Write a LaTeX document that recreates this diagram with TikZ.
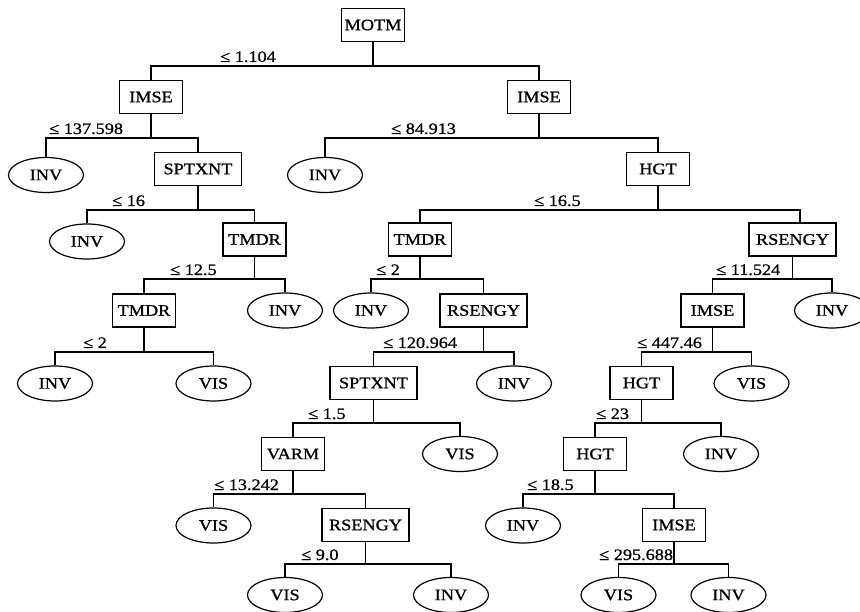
\documentclass[tikz,border=0pt]{standalone}
\usepackage{fontspec}
\setmainfont{Liberation Serif}[FakeStretch=1.14,FakeBold=0.9]
\usetikzlibrary{shapes.geometric}
\newcommand\treesplit[4]{%
  \coordinate (b#1) at (#1.south |- 0,#2);
  \draw[conn] (#1.south) -- (b#1);
  \draw[conn] (#3.north) |- (b#1) -| (#4.north);}
\begin{document}
\begin{tikzpicture}[x=1pt,y=-1pt,
  every node/.style={font=\fontsize{16}{18}\selectfont},
  tbox/.style={draw, line width=1.5pt, minimum width=63, minimum height=33, inner sep=0},
  wbox/.style={tbox, minimum width=87},
  leaf/.style={draw, ellipse, line width=1.2pt, minimum width=75, minimum height=35, inner sep=0},
  conn/.style={line width=1.7pt},
  lbl/.style={anchor=base west, inner sep=0}]
\useasboundingbox (0,0) rectangle (860,612);
\fill[white] (0,0) rectangle (860,612);
\clip (0,0) rectangle (860,612);
% nodes
\node[tbox] (motm) at (373,25) {MOTM};
\node[tbox] (imseL) at (151,97) {IMSE};
\node[tbox] (imseR) at (539,97) {IMSE};
\node[leaf] (inv1) at (46,175) {INV};
\node[wbox] (spt1) at (198,169) {SPTXNT};
\node[leaf] (inv2) at (325,175) {INV};
\node[tbox] (hgt1) at (658,169) {HGT};
\node[leaf] (inv3) at (87,241.5) {INV};
\node[tbox] (tmdr1) at (254.5,239.5) {TMDR};
\node[tbox] (tmdr3) at (420,239.5) {TMDR};
\node[wbox] (rs1) at (792.5,239.5) {RSENGY};
\node[tbox] (tmdr2) at (144,310.5) {TMDR};
\node[leaf] (inv4) at (285,310.5) {INV};
\node[leaf] (inv5) at (371,310.5) {INV};
\node[wbox] (rs2) at (483.5,310.5) {RSENGY};
\node[tbox] (imse3) at (712.5,310.5) {IMSE};
\node[leaf] (inv6) at (832,310.5) {INV};
\node[leaf] (inv7) at (55,383.5) {INV};
\node[leaf] (vis1) at (213.5,383.5) {VIS};
\node[wbox] (spt2) at (373.5,383) {SPTXNT};
\node[leaf] (inv8) at (514,383.5) {INV};
\node[tbox] (hgt2) at (641.5,383) {HGT};
\node[leaf] (vis2) at (751.5,383.5) {VIS};
\node[tbox] (varm) at (293,454) {VARM};
\node[leaf] (vis3) at (460,454) {VIS};
\node[tbox] (hgt3) at (595,454) {HGT};
\node[leaf] (inv9) at (721,454) {INV};
\node[leaf] (vis4) at (213.5,525.5) {VIS};
\node[wbox] (rs3) at (365.5,525) {RSENGY};
\node[leaf] (inv10) at (523,525.5) {INV};
\node[tbox] (imse4) at (674,525) {IMSE};
\node[leaf] (vis5) at (285,595) {VIS};
\node[leaf] (inv11) at (451,595) {INV};
\node[leaf] (vis6) at (618.5,595) {VIS};
\node[leaf] (inv12) at (728.5,595) {INV};
% connectors
\treesplit{motm}{66}{imseL}{imseR}
\treesplit{imseL}{138}{inv1}{spt1}
\treesplit{imseR}{138}{inv2}{hgt1}
\treesplit{spt1}{210}{inv3}{tmdr1}
\coordinate (bhgt1) at (hgt1.south |- 0,210);
\draw[conn] (hgt1.south) -- (bhgt1);
\draw[conn] (tmdr3.north) |- (bhgt1) -| ([xshift=7.5pt]rs1.north);
\treesplit{tmdr1}{279}{tmdr2}{inv4}
\treesplit{tmdr3}{279}{inv5}{rs2}
\treesplit{rs1}{279}{imse3}{inv6}
\treesplit{tmdr2}{352}{inv7}{vis1}
\treesplit{rs2}{352}{spt2}{inv8}
\treesplit{imse3}{352}{hgt2}{vis2}
\treesplit{spt2}{423}{varm}{vis3}
\treesplit{hgt2}{423}{hgt3}{inv9}
\treesplit{varm}{494}{vis4}{rs3}
\treesplit{hgt3}{494}{inv10}{imse4}
\treesplit{rs3}{564}{vis5}{inv11}
\treesplit{imse4}{564}{vis6}{inv12}
% labels
\node[lbl] (t1) at (220,62) {≤ 1.104};
\node[lbl] (t2) at (49,134) {≤ 137.598};
\node[lbl] (t3) at (391,134) {≤ 84.913};
\node[lbl] (t4) at (112,206) {≤ 16};
\node[lbl] (t5) at (534,206) {≤ 16.5};
\node[lbl] (t6) at (170,275) {≤ 12.5};
\node[lbl] (t7) at (376,275) {≤ 2};
\node[lbl] (t8) at (716,275) {≤ 11.524};
\node[lbl] (t9) at (83,348) {≤ 2};
\node[lbl] (t10) at (383,348) {≤ 120.964};
\node[lbl] (t11) at (637,348) {≤ 447.46};
\node[lbl] (t12) at (308,419) {≤ 1.5};
\node[lbl] (t13) at (596,419) {≤ 23};
\node[lbl] (t14) at (214,490) {≤ 13.242};
\node[lbl] (t15) at (527,490) {≤ 18.5};
\node[lbl] (t16) at (301,560) {≤ 9.0};
\node[lbl] (t17) at (599,560) {≤ 295.688};
\end{tikzpicture}
\end{document}
